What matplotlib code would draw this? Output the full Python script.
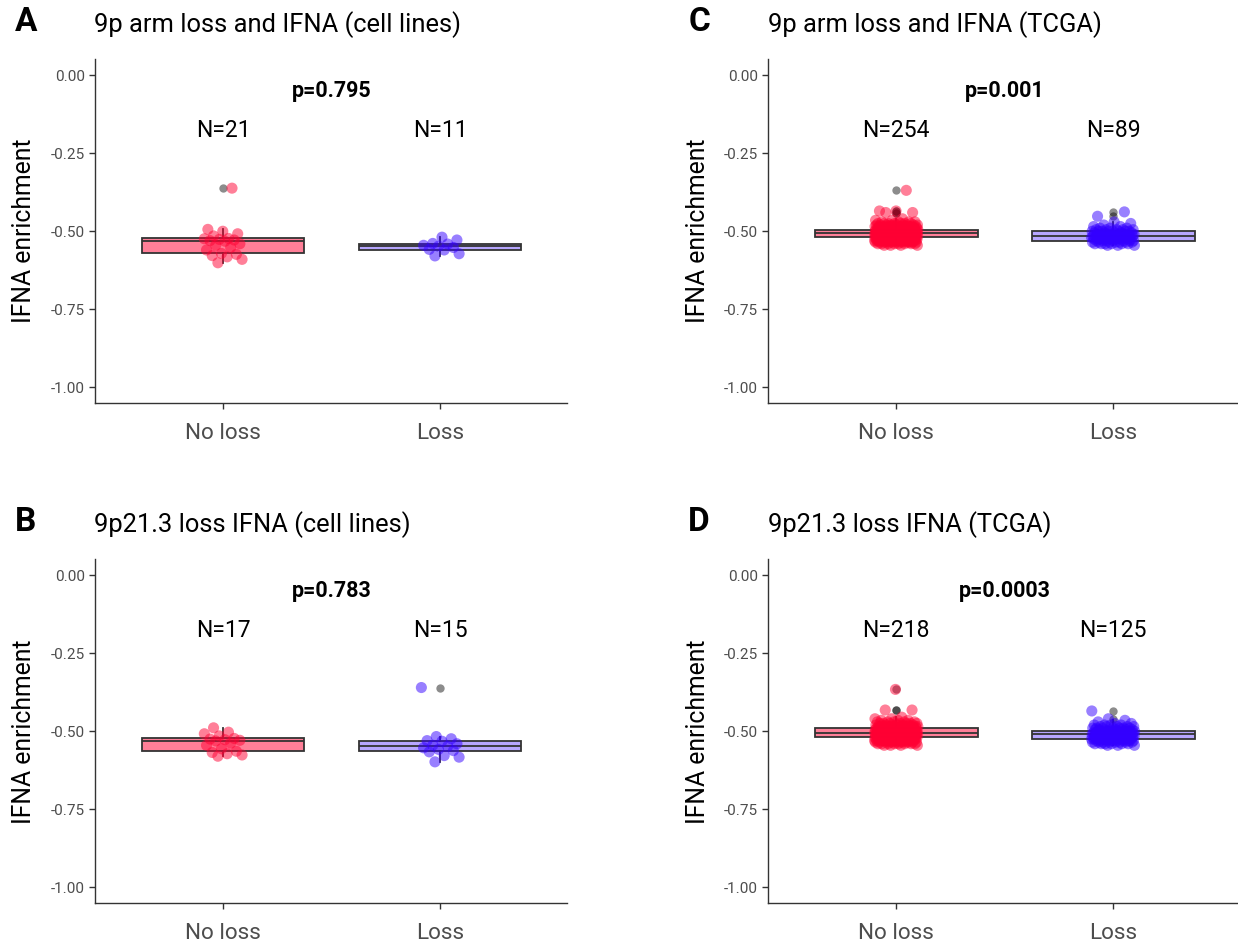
import numpy as np
import matplotlib
matplotlib.use("Agg")
import matplotlib.pyplot as plt

plt.rcParams['font.family'] = ['Roboto', 'DejaVu Sans']

groups = ["No loss", "Loss"]
y_ticks = [0.00, -0.25, -0.50, -0.75, -1.00]

# Cell lines: IFNA enrichment per line
arm_cell_noloss = [-0.601, -0.590, -0.582, -0.578, -0.574, -0.571, -0.560, -0.552,
                   -0.545, -0.540, -0.532, -0.530, -0.528, -0.526, -0.524, -0.523,
                   -0.515, -0.508, -0.500, -0.494, -0.362]
arm_cell_loss = [-0.579, -0.572, -0.560, -0.558, -0.552, -0.548, -0.545, -0.541,
                 -0.539, -0.528, -0.519]
p21_cell_noloss = [-0.580, -0.576, -0.572, -0.568, -0.564, -0.556, -0.545, -0.538,
                   -0.531, -0.529, -0.527, -0.525, -0.523, -0.515, -0.508, -0.503,
                   -0.489]
p21_cell_loss = [-0.598, -0.583, -0.578, -0.566, -0.562, -0.558, -0.553, -0.548,
                 -0.545, -0.540, -0.532, -0.530, -0.524, -0.517, -0.360]

# TCGA tumours: enrichment levels and number of tumours at each level
arm_tcga_noloss_levels = [-0.545, -0.540, -0.535, -0.530, -0.525, -0.520, -0.515,
                          -0.510, -0.505, -0.500, -0.495, -0.490, -0.485, -0.480,
                          -0.475, -0.470, -0.465, -0.460, -0.440, -0.435, -0.369]
arm_tcga_noloss_counts = [4, 8, 14, 18, 19, 20, 20, 22, 24, 24, 20, 18, 14, 10,
                          7, 4, 2, 1, 2, 2, 1]
arm_tcga_loss_levels = [-0.545, -0.540, -0.535, -0.530, -0.525, -0.520, -0.515,
                        -0.510, -0.505, -0.500, -0.495, -0.490, -0.485, -0.480,
                        -0.475, -0.470, -0.452, -0.438]
arm_tcga_loss_counts = [3, 6, 7, 7, 10, 10, 10, 8, 5, 8, 5, 3, 2, 1, 1, 1, 1, 1]
p21_tcga_noloss_levels = [-0.545, -0.540, -0.535, -0.530, -0.525, -0.520, -0.515,
                          -0.510, -0.505, -0.500, -0.495, -0.490, -0.485, -0.480,
                          -0.475, -0.470, -0.465, -0.460, -0.455, -0.432, -0.366]
p21_tcga_noloss_counts = [4, 8, 12, 14, 16, 18, 18, 18, 20, 18, 16, 14, 12, 9,
                          7, 5, 3, 2, 1, 2, 1]
p21_tcga_loss_levels = [-0.545, -0.540, -0.535, -0.530, -0.525, -0.520, -0.515,
                        -0.510, -0.505, -0.500, -0.495, -0.490, -0.485, -0.480,
                        -0.475, -0.470, -0.465, -0.460, -0.435]
p21_tcga_loss_counts = [3, 6, 8, 10, 11, 12, 12, 12, 11, 10, 8, 7, 5, 4, 2, 1, 1, 1, 1]

p_values = ["p=0.795", "p=0.783", "p=0.001", "p=0.0003"]
titles = ["9p arm loss and IFNA (cell lines)", "9p21.3 loss IFNA (cell lines)",
          "9p arm loss and IFNA (TCGA)", "9p21.3 loss IFNA (TCGA)"]
letters = ["A", "B", "C", "D"]

arm_tcga_noloss = np.repeat(arm_tcga_noloss_levels, arm_tcga_noloss_counts)
arm_tcga_loss = np.repeat(arm_tcga_loss_levels, arm_tcga_loss_counts)
p21_tcga_noloss = np.repeat(p21_tcga_noloss_levels, p21_tcga_noloss_counts)
p21_tcga_loss = np.repeat(p21_tcga_loss_levels, p21_tcga_loss_counts)

panel_data = [
    (arm_cell_noloss, arm_cell_loss),
    (p21_cell_noloss, p21_cell_loss),
    (arm_tcga_noloss, arm_tcga_loss),
    (p21_tcga_noloss, p21_tcga_loss),
]
jitter_widths = [0.09, 0.09, 0.10, 0.10]

point_colors = ["#FF0033", "#3300FF"]
box_fills = [(1.0, 0.0, 0.2, 0.5), (0.2, 0.0, 1.0, 0.35)]
line_col = "#333333"
text_grey = "#4D4D4D"

W, H = 1238, 944
fig = plt.figure(figsize=(W / 100, H / 100), dpi=100)

# panel geometry in pixels: (left, top) of each plotting area
ax_w, ax_h = 472.5, 343.5
origins = [(94.5, 59.5), (94.5, 559.5), (767.7, 59.5), (767.7, 559.5)]


def jitter(n, width):
    # evenly spread horizontal offsets (golden-ratio sequence)
    frac = (np.arange(n) * 0.6180339887 + 0.37) % 1.0
    return (2 * frac - 1) * width


for k in range(4):
    left, top = origins[k]
    ax = fig.add_axes([left / W, 1 - (top + ax_h) / H, ax_w / W, ax_h / H])
    data = [np.asarray(d, dtype=float) for d in panel_data[k]]

    bp = ax.boxplot(data, positions=[1, 2], widths=0.75, whis=1.5,
                    patch_artist=True, showcaps=False, manage_ticks=False,
                    flierprops=dict(marker="o", markersize=6.0,
                                    markerfacecolor=(0, 0, 0, 0.45),
                                    markeredgecolor="none"),
                    medianprops=dict(color=line_col, linewidth=1.3),
                    whiskerprops=dict(color=line_col, linewidth=1.3),
                    boxprops=dict(edgecolor=line_col, linewidth=1.3))
    for patch, fc in zip(bp["boxes"], box_fills):
        patch.set_facecolor(fc)
        patch.set_zorder(1)
    for art in bp["medians"] + bp["whiskers"] + bp["fliers"]:
        art.set_zorder(1.5)

    for i, (vals, col) in enumerate(zip(data, point_colors)):
        xs = (i + 1) + jitter(len(vals), jitter_widths[k])
        ax.scatter(xs, vals, s=64, color=col, alpha=0.5, edgecolors="none",
                   zorder=2)
        ax.text(i + 1, -0.176, f"N={len(vals)}", ha="center", va="center",
                fontsize=16.5, color="black")

    ax.text(1.5, -0.051, p_values[k], ha="center", va="center", fontsize=15.5,
            fontweight="bold", color="black")

    ax.set_xlim(0.408, 2.585)
    ax.set_ylim(-1.05, 0.05)
    ax.set_xticks([1, 2])
    ax.set_xticklabels(groups)
    ax.set_yticks(y_ticks)
    ax.set_yticklabels([f"{t:.2f}" for t in y_ticks])
    ax.tick_params(axis="y", length=4, width=1, color=line_col,
                   labelsize=11, labelcolor=text_grey, pad=3)
    ax.tick_params(axis="x", length=4, width=1, color=line_col,
                   labelsize=16.2, labelcolor=text_grey, pad=10.5)
    for side in ["top", "right"]:
        ax.spines[side].set_visible(False)
    for side in ["left", "bottom"]:
        ax.spines[side].set_color(line_col)
        ax.spines[side].set_linewidth(1.0)

    ax.text(-70 / ax_w, 0.5, "IFNA enrichment", transform=ax.transAxes,
            rotation=90, ha="center", va="center", fontsize=17.8, color="black")

    base_y = top - 27.5
    fig.text(left / W, 1 - base_y / H, titles[k], ha="left", va="baseline",
             fontsize=18.4, color="black")
    fig.text((left - 79.5) / W, 1 - (base_y - 1) / H, letters[k], ha="left",
             va="baseline", fontsize=24, fontweight="bold", color="black")

fig.savefig("out.png", dpi=100)
